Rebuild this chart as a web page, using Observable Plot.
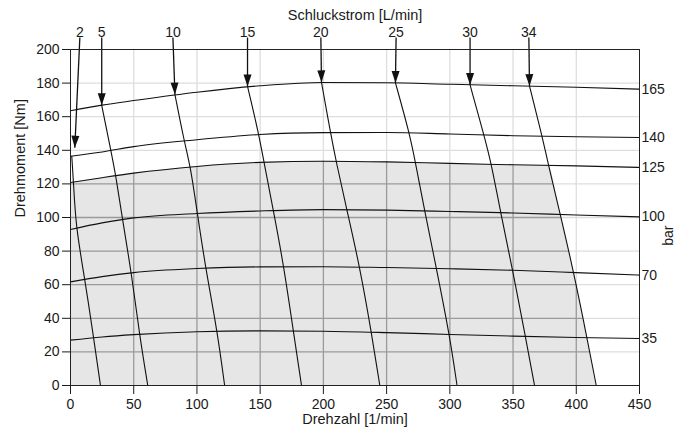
<!DOCTYPE html>
<html><head><meta charset="utf-8">
<script src="https://cdn.jsdelivr.net/npm/d3@7"></script>
<script src="https://cdn.jsdelivr.net/npm/@observablehq/plot@0.6"></script>
<style>body{margin:0;background:#fff} #chart svg{display:block}</style>
</head><body><div id="chart"></div>
<script>
// ---- data ----
const xTicks = [0, 50, 100, 150, 200, 250, 300, 350, 400, 450];
const yTicks = [0, 20, 40, 60, 80, 100, 120, 140, 160, 180, 200];

// pressure curves (bar): torque [Nm] against speed [1/min]
const rpm = [0, 25, 50, 100, 150, 200, 250, 300, 350, 400, 450];
const pressureLabels = [165, 140, 125, 100, 70, 35];
const torque165 = [163.5, 166.9, 169.6, 174.6, 178.4, 180.4, 180.2, 179.3, 178.4, 177.5, 176.4];
const torque140 = [136.5, 139.0, 142.2, 146.3, 149.4, 150.5, 150.6, 149.7, 148.7, 148.1, 147.6];
const torque125 = [120.8, 123.7, 126.4, 130.4, 132.8, 133.5, 133.1, 132.2, 131.4, 130.7, 129.8];
const torque100 = [92.9, 96.8, 99.8, 102.4, 103.9, 104.7, 104.4, 103.6, 102.7, 101.5, 100.4];
const torque70  = [61.7, 64.8, 67.2, 69.6, 70.6, 70.7, 70.2, 69.5, 68.6, 67.2, 65.7];
const torque35  = [27.0, 28.9, 30.3, 32.0, 32.5, 32.3, 31.5, 30.4, 29.4, 28.6, 28.0];
const torqueSeries = [torque165, torque140, torque125, torque100, torque70, torque35];

// flow lines (L/min)
const flowLabels = [2, 5, 10, 15, 20, 25, 30, 34];
const flowRpm = [
  [1.0, 2.4, 4.2, 11.3, 18.2, 23.7],
  [24.7, 31.9, 35.9, 41.1, 48.2, 54.5, 61.1],
  [82.6, 89.8, 95.0, 100.3, 106.9, 116.1, 121.9],
  [140.0, 149.0, 153.0, 160.4, 168.8, 176.2, 182.7],
  [198.5, 205.6, 210.0, 218.5, 228.8, 238.0, 244.6],
  [257.0, 268.0, 272.8, 280.0, 289.4, 299.7, 305.7],
  [316.0, 327.0, 333.0, 340.0, 349.7, 359.7, 367.0],
  [363.0, 373.0, 378.0, 387.3, 397.9, 408.4, 415.8]
];
const flowTorque = [
  [136.5, 120.8, 94.4, 63.5, 28.9, 0],
  [166.8, 140.0, 124.8, 98.8, 67.0, 30.5, 0],
  [173.2, 145.6, 130.1, 102.4, 69.6, 32.3, 0],
  [178.0, 149.4, 132.9, 104.3, 70.6, 32.5, 0],
  [180.4, 150.6, 133.5, 104.7, 70.6, 31.5, 0],
  [180.1, 150.4, 132.7, 104.3, 69.6, 30.4, 0],
  [178.9, 149.0, 131.5, 103.5, 68.6, 29.3, 0],
  [178.2, 148.4, 131.1, 102.0, 67.6, 28.6, 0]
];

// arrows above the chart
const arrowLabelX = [7.4, 24.7, 81.0, 140.0, 198.0, 257.5, 316.0, 362.5];
const arrowTipX   = [3.4, 24.7, 82.6, 140.0, 198.5, 257.0, 316.0, 363.0];
const arrowTipY   = [141.5, 166.8, 173.2, 178.0, 180.4, 180.1, 178.9, 178.2];

// ---- layout ----
const W = 675, H = 429, mL = 70, mR = 36, mT = 49, mB = 44;
const kx = (W - mL - mR) / 450, ky = (H - mT - mB) / 200;
const arrowTopY = 200 + 12 / ky;

function interp(xs, ys, x) {
  for (let i = 0; i < xs.length - 1; i++) {
    if (x >= xs[i] && x <= xs[i + 1]) {
      const t = (x - xs[i]) / (xs[i + 1] - xs[i]);
      return ys[i] + t * (ys[i + 1] - ys[i]);
    }
  }
  return x < xs[0] ? ys[0] : ys[ys.length - 1];
}

const pressureData = pressureLabels.flatMap((p, i) => rpm.map((r, j) => ({p, rpm: r, torque: torqueSeries[i][j]})));
const pressureEnds = pressureLabels.map((p, i) => ({p: String(p), torque: torqueSeries[i][rpm.length - 1]}));
const flowData = flowLabels.flatMap((f, i) => flowRpm[i].map((r, j) => ({f, rpm: r, torque: flowTorque[i][j]})));

// shaded operating region: under the 125 bar curve, left of the 34 L/min line
const last = flowLabels.length - 1;
const cutRpm = flowRpm[last][2];
const boundary = [];
rpm.forEach((r, j) => { if (r < cutRpm) boundary.push({rpm: r, torque: torque125[j]}); });
flowRpm[last].forEach((r, j) => { if (j >= 2) boundary.push({rpm: r, torque: flowTorque[last][j]}); });
const bX = boundary.map(d => d.rpm), bY = boundary.map(d => d.torque);
const f34Y = flowTorque[last].slice().reverse(), f34X = flowRpm[last].slice().reverse();

const gridX = xTicks.filter(v => v > 0 && v < 450);
const gridY = yTicks.filter(v => v > 0 && v < 200);
const darkX = gridX.map(x => ({x, y2: interp(bX, bY, x)}));
const darkY = gridY.filter(y => y < 120.8).map(y => ({y, x2: interp(f34Y, f34X, y)}));

const arrows = flowLabels.map((f, i) => {
  const dx = (arrowTipX[i] - arrowLabelX[i]) * kx;
  const dy = (arrowTopY - arrowTipY[i]) * ky;
  let ang = Math.atan2(dx, -dy) * 180 / Math.PI;
  if (ang < 0) ang += 360;
  return {label: String(f), labelX: arrowLabelX[i], tipX: arrowTipX[i], tipY: arrowTipY[i], angle: ang};
});

const plot = Plot.plot({
  width: W, height: H,
  marginLeft: mL, marginRight: mR, marginTop: mT, marginBottom: mB,
  x: {domain: [0, 450], ticks: xTicks, tickSize: 9, tickPadding: 5, label: null, tickFormat: d => String(d)},
  y: {domain: [0, 200], ticks: yTicks, tickSize: 8, tickPadding: 3, label: null, tickFormat: d => String(d)},
  style: {fontFamily: "'Liberation Sans', Arial, sans-serif", fontSize: "14px", color: "#1a1a1a", background: "white"},
  marks: [
    Plot.ruleX(gridX, {stroke: "#dedede", strokeWidth: 1.3}),
    Plot.ruleY(gridY, {stroke: "#dedede", strokeWidth: 1.3}),
    Plot.areaY(boundary, {x: "rpm", y: "torque", fill: "#e6e6e6", curve: "monotone-x"}),
    Plot.ruleX(darkX, {x: "x", y1: 0, y2: "y2", stroke: "#9a9a9a", strokeWidth: 1.3}),
    Plot.ruleY(darkY, {y: "y", x1: 0, x2: "x2", stroke: "#9a9a9a", strokeWidth: 1.3}),
    Plot.line(pressureData, {x: "rpm", y: "torque", z: "p", curve: "monotone-x", stroke: "#111", strokeWidth: 1.1}),
    Plot.line(flowData, {x: "rpm", y: "torque", z: "f", curve: "basis", stroke: "#111", strokeWidth: 1.1}),
    Plot.text(pressureEnds, {x: 450, y: "torque", text: "p", textAnchor: "start", dx: 2, fontSize: 14, fill: "#1a1a1a"}),
    Plot.link(arrows, {x1: "labelX", y1: () => arrowTopY, x2: "tipX", y2: "tipY", stroke: "#111", strokeWidth: 1.3}),
    Plot.vector(arrows, {x: "tipX", y: "tipY", rotate: "angle", length: 12, r: 4, shape: "spike", anchor: "end", fill: "#111", stroke: "none"}),
    Plot.text(arrows, {x: "labelX", frameAnchor: "top", lineAnchor: "middle", dy: -17, text: "label", fontSize: 14, fill: "#1a1a1a"}),
    Plot.frame({stroke: "#222"}),
    Plot.text(["Schluckstrom [L/min]"], {frameAnchor: "top", lineAnchor: "middle", dy: -34, text: d => d, fontSize: 14.5, fill: "#1a1a1a"}),
    Plot.text(["Drehzahl [1/min]"], {frameAnchor: "bottom", lineAnchor: "middle", dy: 34, text: d => d, fontSize: 14.5, fill: "#1a1a1a"}),
    Plot.text(["Drehmoment [Nm]"], {frameAnchor: "left", lineAnchor: "middle", dx: -50, rotate: -90, text: d => d, fontSize: 14.5, fill: "#1a1a1a"}),
    Plot.text(["bar"], {frameAnchor: "right", lineAnchor: "middle", dx: 29, dy: 8, rotate: -90, text: d => d, fontSize: 14, fill: "#1a1a1a"})
  ]
});
document.getElementById("chart").appendChild(plot);
</script></body></html>
